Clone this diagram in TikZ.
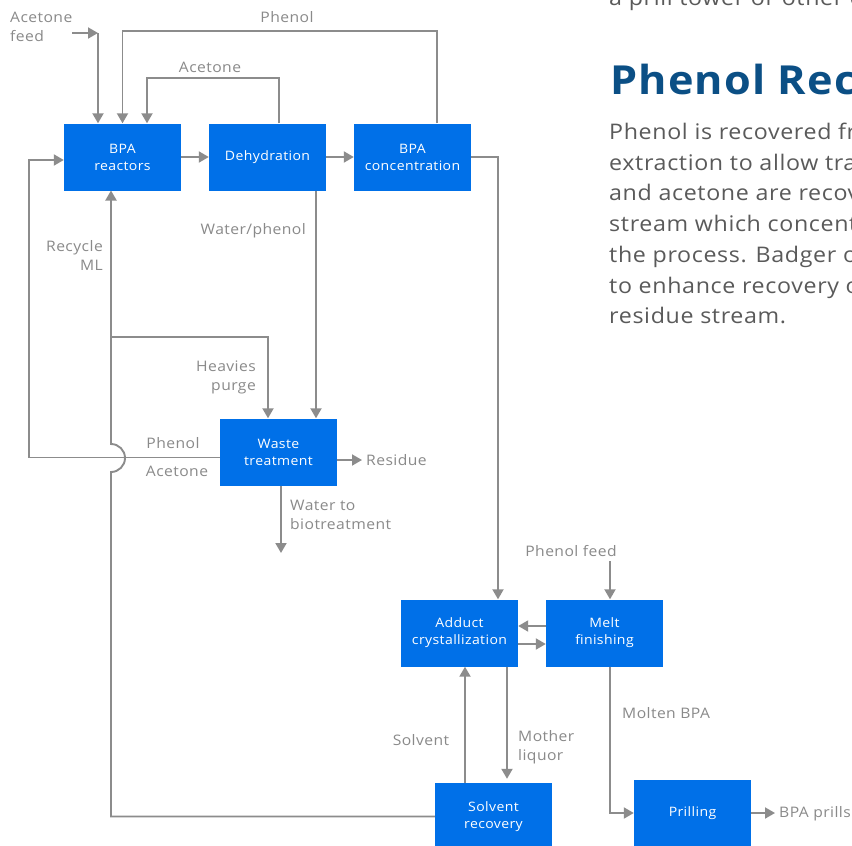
\documentclass[tikz,border=0pt]{standalone}
\usepackage{fontspec}
\setmainfont{Open Sans}[FakeStretch=1.08,LetterSpace=3]
\usetikzlibrary{arrows.meta,calc}
\definecolor{boxblue}{HTML}{0070E8}
\definecolor{linegray}{HTML}{8C8C8C}
\definecolor{labelgray}{HTML}{8A8A8A}
\definecolor{paragray}{HTML}{5A5A5A}
\definecolor{headblue}{HTML}{0B4F85}
\begin{document}
\begin{tikzpicture}[x=1pt,y=-1pt,
  unit/.style={rectangle,fill=boxblue,text=white,minimum width=117pt,minimum height=67pt,inner sep=0pt,align=center,font=\fontsize{13}{17}\selectfont},
  flow/.style={draw=linegray,line width=1.9pt,-{Triangle[length=10pt,width=11pt]}},
  lbl/.style={text=labelgray,inner sep=0pt,font=\fontsize{14.5}{19}\selectfont},
  para/.style={text=paragray,inner sep=0pt,anchor=base west,font=\fontsize{21.5}{26}\selectfont},
  head/.style={text=headblue,inner sep=0pt,anchor=base west,font=\fontsize{40}{46}\selectfont\bfseries}]
\useasboundingbox[fill=white] (0,0) rectangle (852,846);

% units
\node[unit] (reac) at (122.5,157) {BPA\\reactors};
\node[unit] (dehyd) at (267.5,157) {Dehydration};
\node[unit] (conc) at (412.5,157) {BPA\\concentration};
\node[unit] (waste) at (278.5,452) {Waste\\treatment};
\node[unit] (add) at (459.5,633) {Adduct\\crystallization};
\node[unit] (melt) at (604.5,633) {Melt\\finishing};
\node[unit] (solv) at (493.5,816.5) {Solvent\\recovery};
\node[unit] (pril) at (692.5,813) {Prilling};

% coordinates
\coordinate (afs) at (72,33);
\coordinate (af) at (98,33);
\coordinate (rml) at (111,190.5);
\coordinate (hp) at (111,337);
\coordinate (pa) at (29,160);
\coordinate (wb) at (281,553);
\coordinate (res) at (362,460);
\coordinate (pfs) at (610,561);
\coordinate (prl) at (775,813);

% top loops
\draw[flow] (afs) -- (af);
\draw[flow] (af) -- (af |- reac.north);
\draw[flow] ([xshift=24.5pt]conc.north) -- ++(0,-92) -| (reac.north);
\draw[flow] ([xshift=11.5pt]dehyd.north) -- ++(0,-45) -| ([xshift=24.5pt]reac.north);
\draw[flow] (reac) -- (dehyd);
\draw[flow] (dehyd) -- (conc);
\draw[flow] (conc.east) -| ([xshift=38.5pt]add.north);
\draw[flow] ([xshift=48.5pt]dehyd.south) -- ([xshift=37.5pt]waste.north);

% recycle ML with hop
\draw[flow] (solv.west) -| (111,472) arc[start angle=-90,end angle=90,radius=14pt] -- (rml);
\draw[flow] (hp) -| ([xshift=-10.5pt]waste.north);
\draw[flow] ([yshift=-5.5pt]waste.west) -| (pa) -- (pa -| reac.west);
\draw[flow] ([yshift=-8pt]waste.east) -- (res);
\draw[flow] ([xshift=2.5pt]waste.south) -- (wb);

% lower section
\draw[flow] (pfs) -- (pfs |- melt.north);
\draw[flow] ([yshift=7pt]melt.west) -- ([yshift=7pt]add.east);
\draw[flow] ([yshift=-11pt]add.east) -- ([yshift=-11pt]melt.west);
\draw[flow] ([xshift=5.5pt]melt.south) |- (pril.west);
\draw[flow] ([xshift=-28.5pt]solv.north) -- ([xshift=5.5pt]add.south);
\draw[flow,shorten >=4pt] ([xshift=47.5pt]add.south) -- ([xshift=13.5pt]solv.north);
\draw[flow] (pril.east) -- (prl);

% labels
\node[lbl,anchor=west,align=left] (l1) at (10,27) {Acetone\\feed};
\node[lbl] (l2) at (287,17) {Phenol};
\node[lbl] (l3) at (210,67) {Acetone};
\node[lbl,anchor=east] (l4) at (306,231) {Water/phenol};
\node[lbl,anchor=east,align=right] (l5) at (103,255) {Recycle\\ML};
\node[lbl,anchor=east,align=right] (l6) at (256,377) {Heavies\\purge};
\node[lbl] (l7) at (173,443) {Phenol};
\node[lbl] (l8) at (177,471) {Acetone};
\node[lbl,anchor=west] (l9) at (366,460) {Residue};
\node[lbl,anchor=west,align=left] (l10) at (290,515) {Water to\\biotreatment};
\node[lbl] (l11) at (571,551) {Phenol feed};
\node[lbl,anchor=west] (l12) at (622,713) {Molten BPA};
\node[lbl] (l13) at (421,740) {Solvent};
\node[lbl,anchor=west,align=left] (l14) at (518,747) {Mother\\liquor};
\node[lbl,anchor=west] (l15) at (779,814) {BPA prills};

% side text (cut at page edge, as in the reference)
\node[para] (p0) at (609,5) {a prill tower or other c};
\node[head] (h1) at (610,94) {Phenol Rec};
\node[para] (p1) at (609,139) {Phenol is recovered fr};
\node[para] (p2) at (609,170) {extraction to allow tra};
\node[para] (p3) at (609,200.5) {and acetone are recov};
\node[para] (p4) at (609,231.5) {stream which concent};
\node[para] (p5) at (609,262) {the process. Badger o};
\node[para] (p6) at (609,293) {to enhance recovery o};
\node[para] (p7) at (609,323.5) {residue stream.};
\end{tikzpicture}
\end{document}
